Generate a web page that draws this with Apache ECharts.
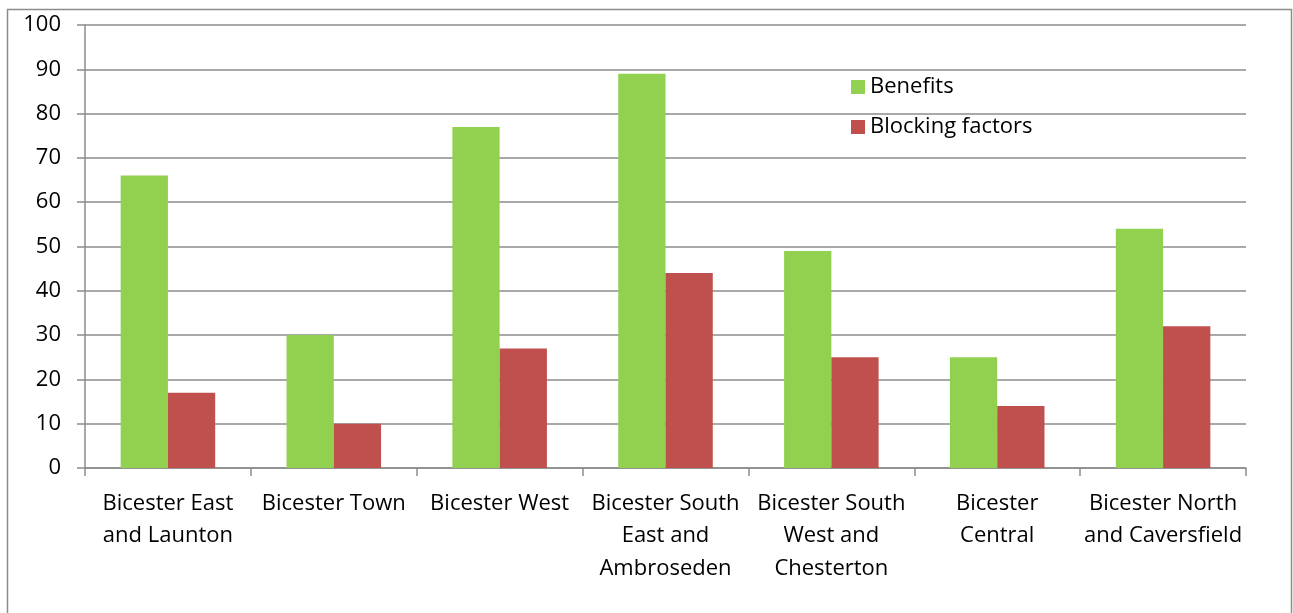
<!DOCTYPE html>
<html><head><meta charset="utf-8">
<script src="https://cdn.jsdelivr.net/npm/echarts@6/dist/echarts.min.js"></script>
<style>html,body{margin:0;padding:0;background:#fff}#c{width:1293px;height:613px}</style>
</head><body><div id="c"></div>
<script>
const categories = ["Bicester East\nand Launton","Bicester Town","Bicester West","Bicester South\nEast and\nAmbroseden","Bicester South\nWest and\nChesterton","Bicester\nCentral","Bicester North\nand Caversfield"];
const benefits = [66,30,77,89,49,25,54];
const blocking = [17,10,27,44,25,14,32];
const yTicks = {min:0,max:100,interval:10};
const chart = echarts.init(document.getElementById('c'));
const font = '"Open Sans", Lato, sans-serif';
chart.setOption({
  animation:false,
  graphic:[{type:'rect',shape:{x:7.5,y:9.5,width:1284,height:640},style:{fill:null,stroke:'#8c8c8c',lineWidth:1.5}}],
  grid:{left:85,right:47,top:25,bottom:145},
  legend:{orient:'vertical',left:846,top:71,itemWidth:14,itemHeight:14,itemGap:18,
    icon:'rect',textStyle:{fontFamily:font,fontSize:22,color:'#000'},
    data:['Benefits','Blocking factors']},
  xAxis:{type:'category',data:categories,
    axisLine:{lineStyle:{color:'#8c8c8c',width:1.5}},
    axisTick:{show:true,length:8,lineStyle:{color:'#8c8c8c',width:1.5}},
    axisLabel:{interval:0,margin:19,fontFamily:font,fontSize:22,color:'#000',lineHeight:32.5,align:'center'}},
  yAxis:{type:'value',min:yTicks.min,max:yTicks.max,interval:yTicks.interval,
    axisLine:{show:true,lineStyle:{color:'#8c8c8c',width:1.5}},
    axisTick:{show:true,length:8,lineStyle:{color:'#8c8c8c',width:1.5}},
    splitLine:{lineStyle:{color:'#8c8c8c',width:1.5}},
    axisLabel:{margin:24,fontFamily:font,fontSize:22,color:'#000'}},
  series:[
    {name:'Benefits',type:'bar',data:benefits,barGap:'0%',barCategoryGap:'43%',itemStyle:{color:'#92d050'}},
    {name:'Blocking factors',type:'bar',data:blocking,itemStyle:{color:'#c0504d'}}
  ]
});
</script></body></html>
